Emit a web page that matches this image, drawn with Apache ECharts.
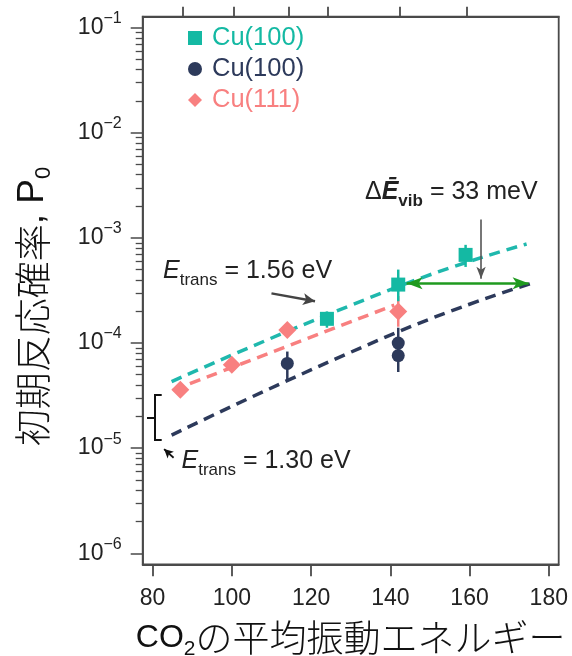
<!DOCTYPE html>
<html><head><meta charset="utf-8">
<script src="https://cdn.jsdelivr.net/npm/echarts@6/dist/echarts.min.js"></script>
<style>html,body{margin:0;padding:0;background:#fff}#c{width:572px;height:656px}</style>
</head><body><div id="c"></div>
<script>
// ---- data ----
const xTickValues = [80, 100, 120, 140, 160, 180];
const yTickValues = [1e-6, 1e-5, 1e-4, 1e-3, 1e-2, 1e-1];
const topTickValues = [87.5, 100.5, 114.4, 124.3, 142.3, 159.4];

const tealX = [124, 142, 159];
const tealY = [1.7e-4, 3.6e-4, 6.9e-4];
const tealLow = [1.4e-4, 2.5e-4, 5.3e-4];
const tealHigh = [2.0e-4, 5.0e-4, 8.6e-4];

const navyX = [114, 142, 142];
const navyY = [6.4e-5, 1.0e-4, 7.6e-5];
const navyLow = [4.4e-5, 8.5e-5, 5.3e-5];
const navyHigh = [8.3e-5, 1.4e-4, 9.0e-5];

const pinkX = [87, 100, 114, 142];
const pinkY = [3.6e-5, 6.2e-5, 1.33e-4, 2.0e-4];
const pinkLow = [null, null, null, 1.43e-4];
const pinkHigh = [null, null, null, 2.8e-4];

const tealFitX = [84.8, 142, 174.4];
const tealFitY = [4.3e-5, 3.45e-4, 8.75e-4];
const navyFitX = [84.8, 142, 175.7];
const navyFitY = [1.33e-5, 1.28e-4, 3.7e-4];
const pinkFitX = [85.2, 141];
const pinkFitY = [3.57e-5, 2.3e-4];

const legendNames = ['Cu(100)', 'Cu(100)', 'Cu(111)'];

// ---- styles ----
const TEAL = '#14b9a3', TEAL_LINE = '#1fb8ad', NAVY = '#2d3a5b', PINK = '#f88080';
const AXIS = '#4a4a4a', TXT = '#222';
const LATIN = "'Liberation Sans', Arial, sans-serif";
const CJK = "'Liberation Sans', 'Noto Sans CJK JP', sans-serif";

const minorTicks = [];
for (let d = -6; d <= -2; d++) for (let k = 2; k <= 9; k++) minorTicks.push(+(k * Math.pow(10, d)).toPrecision(3));

const pairs = (xs, ys) => xs.map((x, i) => [x, ys[i]]);
function errSeries(xs, lo, hi, color) {
  return {
    type: 'custom', silent: true, z: 3, animation: false,
    encode: { x: 0, y: [1, 2] },
    data: xs.map((x, i) => [x, lo[i], hi[i]]).filter(d => d[1] != null),
    renderItem: (params, api) => {
      const p1 = api.coord([api.value(0), api.value(1)]);
      const p2 = api.coord([api.value(0), api.value(2)]);
      return { type: 'line', shape: { x1: p1[0], y1: p1[1], x2: p2[0], y2: p2[1] },
        style: { stroke: color, lineWidth: 2.5 } };
    }
  };
}
function fitSeries(xs, ys, color, extra) {
  return Object.assign({
    type: 'line', data: pairs(xs, ys), smooth: 0.5, symbol: 'none', z: 2, silent: true,
    lineStyle: { color: color, width: 3.5, type: [11, 7] }, animation: false
  }, extra || {});
}
function arrowLine(a, b, color, width, size, both) {
  const ls = { color: color, width: width, type: 'solid' };
  return [
    { coord: a, symbol: both ? 'arrow' : 'none', symbolSize: size, lineStyle: ls },
    { coord: b, symbol: 'arrow', symbolSize: size, lineStyle: ls }
  ];
}

const chart = echarts.init(document.getElementById('c'), null, { renderer: 'canvas' });
const option = {
  backgroundColor: '#fff',
  animation: false,
  grid: { left: 142.7, right: 13.3, top: 16.7, bottom: 91.7, containLabel: false, outerBoundsMode: 'none',
    show: true, borderColor: AXIS, borderWidth: 1.8, backgroundColor: 'transparent' },
  legend: {
    orient: 'vertical', left: 183, top: 20, itemWidth: 14, itemHeight: 14, itemGap: 5,
    formatter: n => ({ tealS: legendNames[0], navyS: legendNames[1], pinkS: legendNames[2] })[n],
    textStyle: { fontSize: 25.5, lineHeight: 24, fontFamily: LATIN, padding: [0, 0, 0, 5] },
    data: [
      { name: 'tealS', icon: 'rect', textStyle: { color: TEAL } },
      { name: 'navyS', icon: 'circle', textStyle: { color: NAVY } },
      { name: 'pinkS', icon: 'diamond', textStyle: { color: PINK } }
    ]
  },
  xAxis: [{
    type: 'value', min: 77.5, max: 182.5, position: 'bottom',
    axisLine: { show: true, lineStyle: { color: AXIS, width: 1.8 } },
    axisTick: { show: true, inside: false, length: 12, customValues: xTickValues, lineStyle: { color: AXIS, width: 1.8 } },
    axisLabel: { customValues: xTickValues, margin: 21, fontSize: 23, fontFamily: LATIN, color: TXT, lineHeight: 26 },
    splitLine: { show: false },
    name: '{co|CO}{sub|2}{j|の平均振動エネルギー}', nameLocation: 'middle', nameGap: 47,
    nameTextStyle: { fontFamily: CJK, color: '#111', fontSize: 36, lineHeight: 44,
      rich: {
        co: { fontSize: 32, fontFamily: CJK, color: '#111', lineHeight: 44 },
        sub: { fontSize: 21, fontFamily: CJK, color: '#111', verticalAlign: 'bottom', lineHeight: 22 },
        j: { fontSize: 37, fontFamily: "'Noto Sans CJK JP', sans-serif", fontWeight: 300, color: '#111', lineHeight: 44 }
      } }
  }, {
    type: 'value', min: 77.5, max: 182.5, position: 'top',
    axisLine: { show: true, lineStyle: { color: AXIS, width: 1.8 } },
    axisTick: { show: true, inside: false, length: 10, customValues: topTickValues, lineStyle: { color: AXIS, width: 1.8 } },
    axisLabel: { show: false }, splitLine: { show: false }
  }],
  yAxis: [{
    type: 'log', min: 7.85e-7, max: 0.1274, position: 'left',
    axisLine: { show: true, lineStyle: { color: AXIS, width: 1.8 } },
    axisTick: { show: true, inside: false, length: 12, customValues: yTickValues, lineStyle: { color: AXIS, width: 1.5 } },
    axisLabel: {
      customValues: yTickValues, margin: 21, color: TXT,
      formatter: v => '{a|10}{s|−' + Math.round(-Math.log10(v)) + '}',
      rich: {
        a: { fontSize: 23, fontFamily: LATIN, color: TXT, lineHeight: 34 },
        s: { fontSize: 16, fontFamily: LATIN, color: TXT, lineHeight: 16, verticalAlign: 'top' }
      }
    },
    splitLine: { show: false }, minorTick: { show: false },
    name: '{j|初期反応確率}{l|, P}{sub|0}', nameLocation: 'middle', nameRotate: 90, nameGap: 88,
    nameTextStyle: { fontFamily: CJK, color: '#111', fontSize: 37, lineHeight: 44, padding: [0, 32, 0, 0],
      rich: {
        j: { fontSize: 37, fontFamily: "'Noto Sans CJK JP', sans-serif", fontWeight: 300, color: '#111', lineHeight: 44 },
        l: { fontSize: 37, fontFamily: LATIN, color: '#111', lineHeight: 44 },
        sub: { fontSize: 22, fontFamily: LATIN, color: '#111', verticalAlign: 'bottom', lineHeight: 22 }
      } }
  }, {
    type: 'log', min: 7.85e-7, max: 0.1274, position: 'left',
    axisLine: { show: false },
    axisTick: { show: true, inside: false, length: 7, customValues: minorTicks, lineStyle: { color: AXIS, width: 1.3 } },
    axisLabel: { show: false }, splitLine: { show: false }
  }],
  series: [
    fitSeries(pinkFitX, pinkFitY, PINK),
    fitSeries(tealFitX, tealFitY, TEAL_LINE),
    fitSeries(navyFitX, navyFitY, NAVY, {
      markLine: {
        silent: true, animation: false, label: { show: false }, emphasis: { disabled: true },
        data: [
          arrowLine([144.1, 3.7e-4], [174.9, 3.7e-4], '#1f9a1f', 2.5, [9, 16], true),
          arrowLine([162.9, 1.5e-3], [162.9, 4.1e-4], '#555', 1.6, [7, 12], false),
          arrowLine([110.0, 2.97e-4], [121.0, 2.5e-4], '#444', 2.5, [9, 12], false),
          arrowLine([85.3, 8.1e-6], [82.9, 9.8e-6], '#111', 1.8, [7, 9], false)
        ]
      }
    }),
    errSeries(pinkX, pinkLow, pinkHigh, PINK),
    errSeries(tealX, tealLow, tealHigh, TEAL),
    errSeries(navyX, navyLow, navyHigh, NAVY),
    { name: 'pinkS', type: 'scatter', data: pairs(pinkX, pinkY), symbol: 'diamond', symbolSize: 18, z: 4,
      itemStyle: { color: PINK, opacity: 1 } },
    { name: 'tealS', type: 'scatter', data: pairs(tealX, tealY), symbol: 'rect', symbolSize: 14, z: 5,
      itemStyle: { color: TEAL, opacity: 1 } },
    { name: 'navyS', type: 'scatter', data: pairs(navyX, navyY), symbol: 'circle', symbolSize: 13, z: 4,
      itemStyle: { color: NAVY, opacity: 1 } }
  ],
  graphic: [
    { type: 'text', x: 163, y: 271, style: {
      text: '{e|E}{s|trans}{n| = 1.56 eV}', verticalAlign: 'middle', align: 'left',
      rich: {
        e: { fontSize: 25, fontStyle: 'italic', fontFamily: LATIN, fill: TXT, lineHeight: 36 },
        s: { fontSize: 17, fontFamily: LATIN, fill: TXT, lineHeight: 17, verticalAlign: 'bottom' },
        n: { fontSize: 25, fontFamily: LATIN, fill: TXT, lineHeight: 36 }
      } } },
    { type: 'text', x: 181.5, y: 461, style: {
      text: '{e|E}{s|trans}{n| = 1.30 eV}', verticalAlign: 'middle', align: 'left',
      rich: {
        e: { fontSize: 25, fontStyle: 'italic', fontFamily: LATIN, fill: TXT, lineHeight: 36 },
        s: { fontSize: 17, fontFamily: LATIN, fill: TXT, lineHeight: 17, verticalAlign: 'bottom' },
        n: { fontSize: 25, fontFamily: LATIN, fill: TXT, lineHeight: 36 }
      } } },
    { type: 'text', x: 365, y: 192, style: {
      text: '{d|Δ}{e|Ē}{s|vib}{n| = 33 meV}', verticalAlign: 'middle', align: 'left',
      rich: {
        d: { fontSize: 25, fontFamily: LATIN, fill: TXT, lineHeight: 36 },
        e: { fontSize: 25, fontStyle: 'italic', fontWeight: 'bold', fontFamily: LATIN, fill: TXT, lineHeight: 36 },
        s: { fontSize: 17, fontWeight: 'bold', fontFamily: LATIN, fill: TXT, lineHeight: 17, verticalAlign: 'bottom' },
        n: { fontSize: 25, fontFamily: LATIN, fill: TXT, lineHeight: 36 }
      } } },
    { type: 'polyline', shape: { points: [[161.7, 395], [155, 395], [155, 440], [161.7, 440]] },
      style: { stroke: '#111', lineWidth: 2, fill: null } },
    { type: 'line', shape: { x1: 155, y1: 418, x2: 147, y2: 418 }, style: { stroke: '#111', lineWidth: 2 } }
  ]
};
chart.setOption(option);
</script>
</body></html>
